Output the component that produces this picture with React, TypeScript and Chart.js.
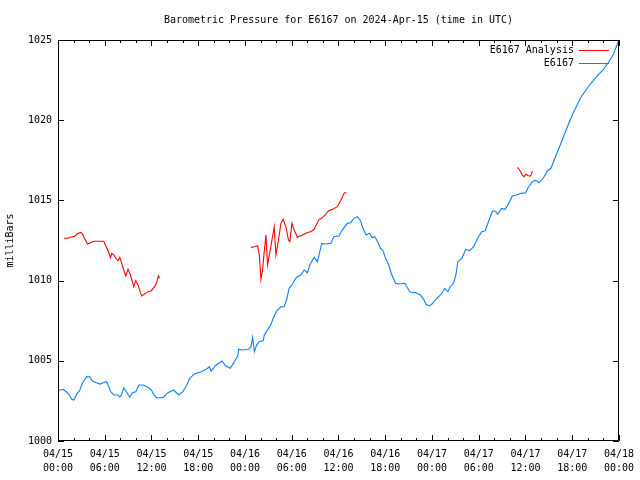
import React, { useEffect, useRef } from "react";
import { Chart, registerables } from "chart.js";

Chart.register(...registerables);

const TITLE = "Barometric Pressure for E6167 on 2024-Apr-15 (time in UTC)";
const Y_TITLE = "milliBars";

// hours since 2024-04-15 00:00 UTC
const BLUE_LABEL = "E6167";
const BLUE_HOURS = [
  0, 0.26, 0.68, 1.11, 1.45, 1.75, 2.05, 2.39, 2.81, 3.16, 3.67, 4.09, 4.44, 4.95, 5.37, 5.79,
  6.23, 6.43, 6.74, 7.16, 7.71, 7.93, 8.15, 8.44, 8.86, 9.21, 9.55, 9.98, 10.4, 10.91, 11.55,
  11.98, 12.28, 12.62, 13.47, 14.11, 14.84, 15.51, 16.03, 16.54, 16.88, 17.52, 18.38, 19.02,
  19.44, 19.66, 20.3, 21.06, 21.49, 22.09, 22.42, 22.76, 23.06, 23.19, 23.7, 24.47, 24.77,
  24.98, 25.2, 25.49, 25.83, 26.35, 26.47, 26.9, 27.33, 27.62, 28.05, 28.61, 29.03, 29.33,
  29.67, 30.09, 30.6, 31.17, 31.59, 32.01, 32.32, 32.87, 33.29, 33.6, 33.85, 34.28, 35.0,
  35.42, 36.07, 36.49, 37.13, 37.56, 37.98, 38.4, 38.84, 39.13, 39.56, 39.99, 40.33, 40.67,
  41.09, 41.4, 41.69, 42.04, 42.46, 42.8, 43.32, 43.74, 44.51, 45.02, 45.24, 45.88, 46.51,
  46.94, 47.23, 47.67, 48.0, 48.43, 48.86, 49.28, 49.62, 50.04, 50.35, 50.77, 51.07, 51.32,
  51.84, 52.35, 52.78, 53.33, 53.97, 54.39, 54.83, 55.34, 55.76, 56.11, 56.44, 56.95, 57.39,
  57.81, 58.32, 58.87, 59.43, 60.02, 60.36, 60.88, 61.3, 61.73, 62.28, 62.83, 63.27, 63.69,
  64.2, 64.63, 65.48, 66.12, 67.14, 68.04, 69.32, 69.96, 70.6, 71.24, 72.0,
];
const BLUE_PRESSURE = [
  1003.15, 1003.18, 1003.22, 1003.04, 1002.9, 1002.6, 1002.55, 1002.91, 1003.18, 1003.63,
  1004.0, 1004.0, 1003.74, 1003.63, 1003.55, 1003.63, 1003.7, 1003.49, 1003.1, 1002.87,
  1002.87, 1002.74, 1002.87, 1003.32, 1003.01, 1002.73, 1003.01, 1003.07, 1003.49, 1003.49,
  1003.35, 1003.18, 1002.91, 1002.7, 1002.7, 1003.01, 1003.18, 1002.87, 1003.07, 1003.49,
  1003.9, 1004.18, 1004.32, 1004.47, 1004.63, 1004.36, 1004.74, 1004.99, 1004.69, 1004.53,
  1004.78, 1005.05, 1005.26, 1005.72, 1005.67, 1005.72, 1005.88, 1006.46, 1005.56, 1005.98,
  1006.19, 1006.25, 1006.6, 1006.92, 1007.27, 1007.65, 1008.1, 1008.37, 1008.37, 1008.79,
  1009.52, 1009.79, 1010.2, 1010.35, 1010.66, 1010.49, 1010.97, 1011.45, 1011.18, 1011.8,
  1012.3, 1012.28, 1012.32, 1012.74, 1012.78, 1013.15, 1013.57, 1013.61, 1013.88, 1013.99,
  1013.73, 1013.26, 1012.84, 1012.95, 1012.67, 1012.74, 1012.36, 1012.0, 1011.9, 1011.39,
  1010.97, 1010.41, 1009.83, 1009.79, 1009.83, 1009.41, 1009.27, 1009.25, 1009.1, 1008.83,
  1008.52, 1008.42, 1008.54, 1008.79, 1009.0, 1009.21, 1009.52, 1009.31, 1009.62, 1009.83,
  1010.35, 1011.18, 1011.39, 1011.95, 1011.85, 1012.1, 1012.74, 1013.05, 1013.11, 1013.78,
  1014.34, 1014.34, 1014.15, 1014.5, 1014.44, 1014.78, 1015.27, 1015.34, 1015.44, 1015.48,
  1015.81, 1016.17, 1016.27, 1016.1, 1016.38, 1016.85, 1017.0, 1017.52, 1018.14, 1018.66,
  1019.7, 1020.45, 1021.45, 1022.07, 1022.82, 1023.13, 1023.57, 1024.06, 1025.0,
];

const RED_LABEL = "E6167 Analysis";
const RED_HOURS = [
  0.77, 1.32, 1.53, 2.05, 2.6, 2.94, 3.16, 3.45, 3.79, 4.18, 4.6, 5.88, 6.14, 6.48, 6.74,
  6.91, 7.16, 7.51, 7.71, 7.93, 8.15, 8.44, 8.7, 8.99, 9.3, 9.55, 9.72, 9.98, 10.27, 10.58,
  10.74, 11.13, 11.55, 11.98, 12.41, 12.7, 12.88, 13.04,
  18.9,
  24.77, 25.2, 25.62, 25.84, 26.05, 26.26, 26.47, 26.69, 26.9, 27.2, 27.46, 27.75, 27.97,
  28.3, 28.61, 28.9, 29.25, 29.58, 29.76, 30.02, 30.31, 30.73, 31.37, 32.01, 32.44, 32.87,
  33.16, 33.51, 33.85, 34.28, 34.7, 35.21, 35.85, 36.28, 36.71, 37.0,
  48.0,
  59.0, 59.3, 59.6, 59.81, 60.07, 60.36, 60.66, 60.79, 60.88,
];
const RED_PRESSURE = [
  1012.64, 1012.64, 1012.7, 1012.74, 1012.95, 1013.0, 1012.89, 1012.57, 1012.28, 1012.36,
  1012.45, 1012.45, 1012.16, 1011.8, 1011.43, 1011.7, 1011.6, 1011.33, 1011.24, 1011.45,
  1011.12, 1010.66, 1010.29, 1010.7, 1010.35, 1009.93, 1009.62, 1010.0, 1009.73, 1009.25,
  1009.04, 1009.17, 1009.31, 1009.37, 1009.62, 1009.93, 1010.3, 1010.14,
  null,
  1012.07, 1012.11, 1012.16, 1011.6, 1010.08, 1010.66, 1011.8, 1012.84, 1010.97, 1011.8,
  1012.53, 1013.36, 1011.6, 1012.53, 1013.57, 1013.82, 1013.36, 1012.53, 1012.43, 1013.57,
  1013.15, 1012.7, 1012.84, 1013.0, 1013.05, 1013.2, 1013.47, 1013.82, 1013.88, 1014.09,
  1014.34, 1014.44, 1014.61, 1014.98, 1015.44, 1015.5,
  null,
  1017.06, 1016.85, 1016.58, 1016.48, 1016.63, 1016.54, 1016.52, 1016.65, 1016.83,
];

const X_TICK_LABELS = [
  ["04/15", "00:00"], ["04/15", "06:00"], ["04/15", "12:00"], ["04/15", "18:00"],
  ["04/16", "00:00"], ["04/16", "06:00"], ["04/16", "12:00"], ["04/16", "18:00"],
  ["04/17", "00:00"], ["04/17", "06:00"], ["04/17", "12:00"], ["04/17", "18:00"],
  ["04/18", "00:00"],
];
const Y_MIN = 1000;
const Y_MAX = 1025;
const Y_STEP = 5;
const X_MAJOR_STEP = 6;
const X_MINOR_STEP = 2;

const FONT = "'DejaVu Sans Mono', 'Liberation Mono', monospace";
const RED = "#ff0000";
const BLUE = "#0a80ff";

const framePlugin = {
  id: "gnuplotFrame",
  afterDraw(chart: any) {
    const { ctx, chartArea: a, scales } = chart;
    const xs = scales.x;
    const ys = scales.y;
    ctx.save();

    // title centred over the plot area
    ctx.font = `10px ${FONT}`;
    ctx.fillStyle = "#000";
    ctx.textAlign = "center";
    ctx.textBaseline = "middle";
    ctx.fillText(TITLE, (a.left + a.right) / 2, 20);

    ctx.strokeStyle = "#000";
    ctx.lineWidth = 1;
    ctx.beginPath();
    ctx.rect(Math.round(a.left) + 0.5, Math.round(a.top) + 0.5, Math.round(a.right - a.left) - 1, Math.round(a.bottom - a.top) - 1);
    ctx.stroke();
    ctx.beginPath();
    for (let h = xs.min; h <= xs.max + 1e-9; h += X_MINOR_STEP) {
      const px = Math.round(xs.getPixelForValue(h)) + 0.5;
      const len = Math.abs(h % X_MAJOR_STEP) < 1e-9 ? 6 : 3;
      ctx.moveTo(px, a.bottom);
      ctx.lineTo(px, a.bottom - len);
      ctx.moveTo(px, a.top);
      ctx.lineTo(px, a.top + len);
    }
    for (let v = Y_MIN; v <= Y_MAX + 1e-9; v += Y_STEP) {
      const py = Math.round(ys.getPixelForValue(v)) + 0.5;
      ctx.moveTo(a.left, py);
      ctx.lineTo(a.left + 6, py);
      ctx.moveTo(a.right, py);
      ctx.lineTo(a.right - 6, py);
    }
    ctx.stroke();

    // legend (gnuplot style: text right-aligned, sample line to the right)
    ctx.textAlign = "right";
    const order = [1, 0];
    order.forEach((di, row) => {
      const ds = chart.data.datasets[di];
      const y = a.top + 10 + row * 13;
      ctx.fillStyle = "#000";
      ctx.fillText(ds.label, a.right - 45, y);
      ctx.strokeStyle = ds.borderColor;
      ctx.beginPath();
      ctx.moveTo(a.right - 40, Math.round(y) + 0.5);
      ctx.lineTo(a.right - 10, Math.round(y) + 0.5);
      ctx.stroke();
    });
    ctx.restore();
  },
};

export default function App() {
  const ref = useRef<HTMLCanvasElement | null>(null);
  useEffect(() => {
    if (!ref.current) return;
    const chart = new Chart(ref.current, {
      type: "line",
      data: {
        datasets: [
          {
            label: BLUE_LABEL,
            data: BLUE_HOURS.map((h, i) => ({ x: h, y: BLUE_PRESSURE[i] })),
            borderColor: BLUE,
            borderWidth: 1.1,
            pointRadius: 0,
            tension: 0,
            fill: false,
          },
          {
            label: RED_LABEL,
            data: RED_HOURS.map((h, i) => ({ x: h, y: RED_PRESSURE[i] })),
            borderColor: RED,
            borderWidth: 1.1,
            pointRadius: 0,
            tension: 0,
            fill: false,
            spanGaps: false,
          },
        ],
      },
      options: {
        responsive: false,
        animation: false,
        events: [],
        layout: { padding: { left: 0, right: 19, top: 40, bottom: 0 } },
        plugins: {
          legend: { display: false },
          tooltip: { enabled: false },
          title: { display: false },
        },
        scales: {
          x: {
            type: "linear",
            min: 0,
            max: 72,
            afterFit: (s: any) => {
              s.height = 39;
            },
            grid: { display: false, drawTicks: false },
            border: { display: false },
            ticks: {
              stepSize: X_MAJOR_STEP,
              autoSkip: false,
              maxRotation: 0,
              minRotation: 0,
              padding: 6,
              color: "#000",
              font: { family: FONT, size: 10, lineHeight: 1.4 },
              callback: (v: any) => X_TICK_LABELS[Math.round(Number(v) / X_MAJOR_STEP)] ?? "",
            },
          },
          y: {
            type: "linear",
            min: Y_MIN,
            max: Y_MAX,
            afterFit: (s: any) => {
              s.width = 58;
            },
            grid: { display: false, drawTicks: false },
            border: { display: false },
            title: {
              display: true,
              text: Y_TITLE,
              color: "#000",
              font: { family: FONT, size: 10, lineHeight: 1.2 },
              padding: { top: 4, bottom: 0 },
            },
            ticks: {
              stepSize: Y_STEP,
              padding: 6,
              color: "#000",
              font: { family: FONT, size: 10 },
              callback: (v: any) => String(Math.round(Number(v))),
            },
          },
        },
      },
      plugins: [framePlugin],
    });
    return () => chart.destroy();
  }, []);
  return (
    <div style={{ position: "fixed", left: 0, top: 0, width: 640, height: 480, background: "#fff" }}>
      <canvas ref={ref} width={640} height={480} />
    </div>
  );
}
